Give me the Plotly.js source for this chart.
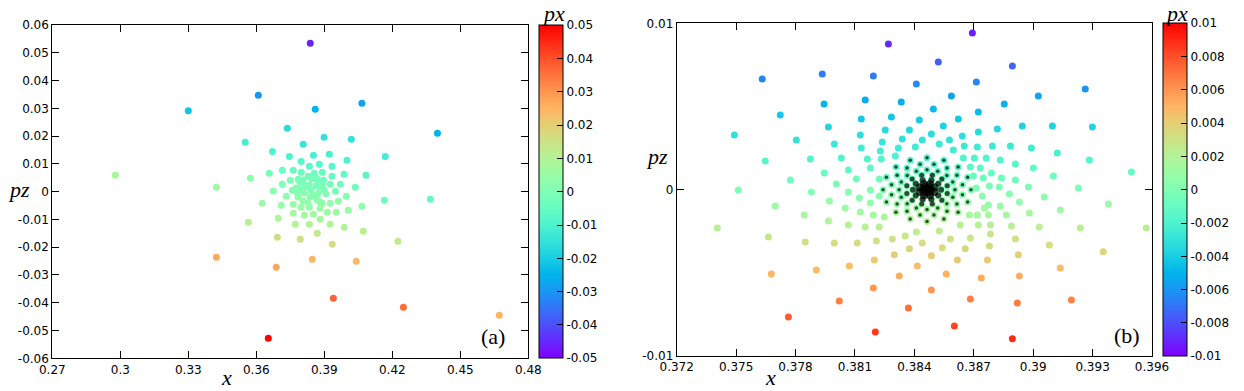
<!DOCTYPE html>
<html>
<head>
<meta charset="utf-8">
<script src="https://cdn.plot.ly/plotly-3.0.1.min.js"></script>
<style>
  body { margin: 0; background: #fff; }
  #chart { width: 1244px; height: 391px; }
</style>
</head>
<body>
<div id="chart"></div>
<script>
// ---- panel (a) : x, pz, px ----
const xA = [0.3838, 0.3609, 0.3300, 0.3860, 0.3737, 0.3551, 0.3807, 0.3671, 0.3746, 0.3852,
  0.3798, 0.2978, 0.3424, 0.3574, 0.3657, 0.3715, 0.3763, 0.3834, 0.3675, 0.3715,
  0.3424, 0.3653, 0.3688, 0.3847, 0.3693, 0.3794, 0.3565, 0.3626, 0.3697, 0.3772,
  0.3834, 0.3763, 0.3812, 0.3852, 0.3869, 0.3710, 0.3763, 0.3732, 0.4066, 0.4399,
  0.3899, 0.4019, 0.4169, 0.3922, 0.4000, 0.4084, 0.3934, 0.3987, 0.3878, 0.3934,
  0.3891, 0.3971, 0.4037, 0.3926, 0.4368, 0.4165, 0.4672, 0.4249, 0.3940, 0.4041,
  0.4225, 0.3935, 0.4072, 0.3988, 0.3926, 0.4066, 0.4006, 0.3953, 0.3913, 0.3882,
  0.3962, 0.3997, 0.3926, 0.3891, 0.3882, 0.3798, 0.3856, 0.3750, 0.3785, 0.3829,
  0.3865, 0.3896, 0.3759, 0.3949, 0.3798, 0.3834, 0.3793, 0.3846, 0.3894, 0.3908,
  0.3881, 0.3828, 0.3784, 0.3775, 0.3819, 0.3863, 0.3872, 0.3837, 0.3810, 0.3841,
  0.3806, 0.3872, 0.3899, 0.3868, 0.3806, 0.3780, 0.3833, 0.3850, 0.3793, 0.3885];
const pzA = [0.0534, 0.0347, 0.0291, 0.0297, 0.0228, 0.0178, 0.0171, 0.0145, 0.0127, 0.0131,
  0.0109, 0.0059, 0.0016, 0.0048, 0.0066, 0.0077, 0.0077, 0.0091, 0.0002, 0.0027,
  -0.0236, -0.0528, -0.0272, -0.0243, -0.0164, -0.0171, -0.0110, -0.0042, -0.0096, -0.0117,
  -0.0117, -0.0078, -0.0085, -0.0081, -0.0150, -0.0049, -0.0045, -0.0017, 0.0318, 0.0210,
  0.0196, 0.0189, 0.0127, 0.0135, 0.0113, 0.0059, 0.0091, 0.0063, 0.0099, 0.0055,
  0.0070, 0.0027, 0.0016, 0.0027, -0.0027, -0.0031, -0.0445, -0.0416, -0.0384, -0.0251,
  -0.0179, -0.0189, -0.0143, -0.0128, -0.0117, -0.0053, -0.0067, -0.0074, -0.0074, -0.0099,
  -0.0035, -0.0017, -0.0042, -0.0042, -0.0060, 0.0070, 0.0066, 0.0041, 0.0045, 0.0055,
  0.0048, 0.0041, 0.0005, 0.0001, -0.0056, -0.0056, 0.0035, 0.0046, 0.0028, -0.0008,
  -0.0037, -0.0041, -0.0019, 0.0013, 0.0021, 0.0021, -0.0008, -0.0019, -0.0005, 0.0006,
  0.0042, 0.0042, 0.0006, -0.0030, -0.0033, -0.0001, 0.0024, -0.0012, 0.0010, 0.0010];
const pxA = [-0.046, -0.030, -0.022, -0.025, -0.017, -0.012, -0.014, -0.010, -0.010, -0.011,
  -0.008, 0.008, 0.006, 0.003, -0.002, -0.004, -0.005, -0.007, 0.002, 0.000,
  0.027, 0.050, 0.027, 0.025, 0.016, 0.016, 0.011, 0.006, 0.009, 0.010,
  0.010, 0.007, 0.007, 0.007, 0.013, 0.005, 0.004, 0.003, -0.028, -0.025,
  -0.015, -0.015, -0.012, -0.011, -0.010, -0.008, -0.008, -0.006, -0.008, -0.005,
  -0.005, -0.003, -0.003, -0.002, -0.006, -0.003, 0.025, 0.036, 0.037, 0.024,
  0.013, 0.016, 0.011, 0.010, 0.010, 0.003, 0.005, 0.006, 0.006, 0.008,
  0.003, 0.001, 0.004, 0.004, 0.005, -0.004, -0.004, -0.002, -0.002, -0.003,
  -0.003, -0.003, 0.001, -0.001, 0.005, 0.005, -0.001, -0.002, -0.002, 0.000,
  0.003, 0.004, 0.002, 0.000, -0.001, -0.001, 0.001, 0.002, 0.001, 0.000,
  -0.002, -0.002, 0.000, 0.003, 0.003, 0.001, -0.001, 0.001, 0.000, 0.000];

// ---- panel (b) : outer points ----
const xB = [0.38269, 0.37632, 0.37935, 0.38193, 0.38410, 0.37723, 0.37944, 0.38152, 0.38334, 0.37491,
  0.37804, 0.37966, 0.38132, 0.38284, 0.38425, 0.37647, 0.37875, 0.37996, 0.38127, 0.38253,
  0.38375, 0.37511, 0.37774, 0.37945, 0.38031, 0.38132, 0.38238, 0.38339, 0.38440, 0.37405,
  0.37698, 0.37880, 0.38006, 0.38067, 0.38163, 0.38228, 0.38319, 0.38405, 0.37663, 0.37844,
  0.37971, 0.38067, 0.38107, 0.38178, 0.38233, 0.38304, 0.37678, 0.37849, 0.37966, 0.38051,
  0.38122, 0.38178, 0.38223, 0.37996, 0.38067, 0.38127, 0.38178, 0.38223, 0.37905, 0.38112,
  0.38152, 0.38193, 0.37764, 0.38021, 0.38072, 0.38208, 0.38223, 0.38248, 0.38203, 0.38193,
  0.38198, 0.38299, 0.38289, 0.38324, 0.38370, 0.38375, 0.38415, 0.38354, 0.38410, 0.38440,
  0.38693, 0.38521, 0.38895, 0.38713, 0.39026, 0.39263, 0.38587, 0.38854, 0.38496, 0.38723,
  0.38622, 0.38819, 0.38945, 0.39097, 0.39299, 0.38546, 0.38723, 0.38486, 0.38642, 0.38577,
  0.38526, 0.38597, 0.38652, 0.38718, 0.38794, 0.38885, 0.38991, 0.39122, 0.39284, 0.39496,
  0.38647, 0.38703, 0.38763, 0.38834, 0.38910, 0.39001, 0.39102, 0.39228, 0.39380, 0.39571,
  0.38683, 0.38733, 0.38789, 0.38840, 0.38910, 0.38976, 0.39056, 0.39137, 0.39238, 0.39354,
  0.38698, 0.38748, 0.38779, 0.38829, 0.38880, 0.38930, 0.38981, 0.39031, 0.39082, 0.39137,
  0.39193, 0.38713, 0.38743, 0.38774, 0.38834, 0.38864, 0.38890, 0.38910, 0.38925, 0.38930,
  0.38920, 0.38895, 0.38753, 0.38774, 0.38784, 0.38784, 0.38779, 0.38769, 0.38738, 0.38683,
  0.38602, 0.38718, 0.38723, 0.38683, 0.38657, 0.38617, 0.38561, 0.38486, 0.38632, 0.38582,
  0.38541, 0.38486, 0.38678, 0.38526];
const pzB = [0.00876, 0.00665, 0.00695, 0.00683, 0.00635, 0.00449, 0.00515, 0.00539, 0.00527, 0.00329,
  0.00299, 0.00377, 0.00425, 0.00437, 0.00419, 0.00172, 0.00185, 0.00275, 0.00329, 0.00359,
  0.00359, -0.00002, 0.00058, 0.00100, 0.00191, 0.00251, 0.00287, 0.00305, 0.00299, -0.00230,
  -0.00098, -0.00014, 0.00034, 0.00118, 0.00185, 0.00233, 0.00251, 0.00257, -0.00284, -0.00152,
  -0.00068, -0.00014, 0.00064, 0.00130, 0.00185, 0.00203, -0.00507, -0.00314, -0.00188, -0.00110,
  -0.00050, -0.00002, 0.00064, -0.00320, -0.00212, -0.00134, -0.00080, -0.00038, -0.00483, -0.00320,
  -0.00224, -0.00152, -0.00765, -0.00669, -0.00459, -0.00308, -0.00224, -0.00164, -0.00855, -0.00591,
  -0.00423, -0.00392, -0.00296, -0.00519, -0.00711, -0.00356, -0.00459, -0.00278, -0.00254, -0.00320,
  0.00942, 0.00767, 0.00743, 0.00647, 0.00563, 0.00605, 0.00563, 0.00515, 0.00485, 0.00467,
  0.00425, 0.00365, 0.00383, 0.00383, 0.00377, 0.00383, 0.00347, 0.00335, 0.00323, 0.00299,
  0.00275, 0.00239, 0.00263, 0.00257, 0.00263, 0.00263, 0.00251, 0.00221, 0.00178, 0.00106,
  0.00191, 0.00191, 0.00191, 0.00178, 0.00154, 0.00130, 0.00082, 0.00010, -0.00086, -0.00230,
  0.00136, 0.00130, 0.00100, 0.00070, 0.00058, 0.00016, -0.00044, -0.00122, -0.00230, -0.00374,
  0.00082, 0.00070, 0.00022, 0.00016, -0.00026, -0.00074, -0.00140, -0.00224, -0.00332, -0.00471,
  -0.00663, 0.00010, -0.00038, -0.00092, -0.00098, -0.00152, -0.00218, -0.00296, -0.00392, -0.00519,
  -0.00681, -0.00897, -0.00110, -0.00152, -0.00212, -0.00266, -0.00338, -0.00423, -0.00531, -0.00657,
  -0.00819, -0.00152, -0.00212, -0.00290, -0.00356, -0.00423, -0.00507, -0.00603, -0.00212, -0.00296,
  -0.00350, -0.00398, -0.00152, -0.00248];
const pxB = [-0.0090, -0.0065, -0.0068, -0.0068, -0.0063, -0.0042, -0.0050, -0.0053, -0.0052, -0.0032,
  -0.0030, -0.0037, -0.0042, -0.0043, -0.0041, -0.0017, -0.0018, -0.0027, -0.0032, -0.0035,
  -0.0035, 0.0000, -0.0006, -0.0010, -0.0019, -0.0025, -0.0028, -0.0030, -0.0029, 0.0023,
  0.0010, 0.0001, -0.0003, -0.0012, -0.0018, -0.0023, -0.0025, -0.0025, 0.0028, 0.0015,
  0.0007, 0.0001, -0.0006, -0.0013, -0.0018, -0.0020, 0.0050, 0.0031, 0.0019, 0.0011,
  0.0005, 0.0000, -0.0006, 0.0032, 0.0021, 0.0013, 0.0008, 0.0004, 0.0048, 0.0032,
  0.0022, 0.0015, 0.0077, 0.0067, 0.0046, 0.0031, 0.0022, 0.0016, 0.0086, 0.0059,
  0.0042, 0.0039, 0.0030, 0.0052, 0.0071, 0.0036, 0.0046, 0.0028, 0.0025, 0.0032,
  -0.0093, -0.0076, -0.0074, -0.0064, -0.0056, -0.0060, -0.0056, -0.0051, -0.0048, -0.0046,
  -0.0042, -0.0036, -0.0038, -0.0038, -0.0037, -0.0038, -0.0034, -0.0033, -0.0032, -0.0030,
  -0.0027, -0.0024, -0.0026, -0.0025, -0.0026, -0.0026, -0.0025, -0.0022, -0.0018, -0.0010,
  -0.0019, -0.0019, -0.0019, -0.0018, -0.0015, -0.0013, -0.0008, -0.0001, 0.0009, 0.0023,
  -0.0014, -0.0013, -0.0010, -0.0007, -0.0006, -0.0002, 0.0004, 0.0012, 0.0023, 0.0037,
  -0.0008, -0.0007, -0.0002, -0.0002, 0.0003, 0.0007, 0.0014, 0.0022, 0.0033, 0.0047,
  0.0066, -0.0001, 0.0004, 0.0009, 0.0010, 0.0015, 0.0022, 0.0030, 0.0039, 0.0052,
  0.0068, 0.0090, 0.0011, 0.0015, 0.0021, 0.0027, 0.0034, 0.0042, 0.0053, 0.0066,
  0.0082, 0.0015, 0.0021, 0.0029, 0.0036, 0.0042, 0.0051, 0.0060, 0.0021, 0.0030,
  0.0035, 0.0040, 0.0015, 0.0025];

// ---- panel (b) : dense core (drawn again with black dots on top) ----
const xCore = [0.38686, 0.38669, 0.38621, 0.38549, 0.38464, 0.38379, 0.38307, 0.38259, 0.38242, 0.38259, 0.38307, 0.38379, 0.38464, 0.38549, 0.38621, 0.38669,
  0.38643, 0.38615, 0.38565, 0.38499, 0.38429, 0.38363, 0.38313, 0.38285, 0.38285, 0.38313, 0.38363, 0.38429, 0.38499, 0.38565, 0.38615, 0.38643,
  0.38605, 0.38594, 0.38564, 0.38518, 0.38464, 0.38410, 0.38364, 0.38334, 0.38323, 0.38334, 0.38364, 0.38410, 0.38464, 0.38518, 0.38564, 0.38594,
  0.38566, 0.38539, 0.38491, 0.38437, 0.38389, 0.38362, 0.38362, 0.38389, 0.38437, 0.38491, 0.38539, 0.38566,
  0.38535, 0.38521, 0.38486, 0.38442, 0.38407, 0.38393, 0.38407, 0.38442, 0.38486, 0.38521,
  0.38501, 0.38479, 0.38449, 0.38427, 0.38427, 0.38449, 0.38479, 0.38501,
  0.38484, 0.38474, 0.38454, 0.38444, 0.38454, 0.38474, 0.38464];
const pzCore = [0, 0.00074, 0.00136, 0.00177, 0.00192, 0.00177, 0.00136, 0.00074, 0, -0.00074, -0.00136, -0.00177, -0.00192, -0.00177, -0.00136, -0.00074,
  0.00030, 0.00087, 0.00130, 0.00153, 0.00153, 0.00130, 0.00087, 0.00030, -0.00030, -0.00087, -0.00130, -0.00153, -0.00153, -0.00130, -0.00087, -0.00030,
  0, 0.00046, 0.00085, 0.00111, 0.00120, 0.00111, 0.00085, 0.00046, 0, -0.00046, -0.00085, -0.00111, -0.00120, -0.00111, -0.00085, -0.00046,
  0.00023, 0.00064, 0.00087, 0.00087, 0.00064, 0.00023, -0.00023, -0.00064, -0.00087, -0.00087, -0.00064, -0.00023,
  0, 0.00035, 0.00057, 0.00057, 0.00035, 0, -0.00035, -0.00057, -0.00057, -0.00035,
  0.00014, 0.00033, 0.00033, 0.00014, -0.00014, -0.00033, -0.00033, -0.00014,
  0, 0.00016, 0.00016, 0, -0.00016, -0.00016, 0];
const pxCore = [0, -0.0007, -0.0014, -0.0018, -0.0019, -0.0018, -0.0014, -0.0007, 0, 0.0007, 0.0014, 0.0018, 0.0019, 0.0018, 0.0014, 0.0007,
  -0.0003, -0.0009, -0.0013, -0.0015, -0.0015, -0.0013, -0.0009, -0.0003, 0.0003, 0.0009, 0.0013, 0.0015, 0.0015, 0.0013, 0.0009, 0.0003,
  0, -0.0005, -0.0009, -0.0011, -0.0012, -0.0011, -0.0009, -0.0005, 0, 0.0005, 0.0009, 0.0011, 0.0012, 0.0011, 0.0009, 0.0005,
  -0.0002, -0.0006, -0.0009, -0.0009, -0.0006, -0.0002, 0.0002, 0.0006, 0.0009, 0.0009, 0.0006, 0.0002,
  0, -0.0004, -0.0006, -0.0006, -0.0004, 0, 0.0004, 0.0006, 0.0006, 0.0004,
  -0.0001, -0.0003, -0.0003, -0.0001, 0.0001, 0.0003, 0.0003, 0.0001,
  0, -0.0002, -0.0002, 0, 0.0002, 0.0002, 0];

// ---- ticks ----
const xTicksA = [0.27, 0.30, 0.33, 0.36, 0.39, 0.42, 0.45, 0.48];
const xLabelsA = ['0.27', '0.3', '0.33', '0.36', '0.39', '0.42', '0.45', '0.48'];
const yTicksA = [-0.06, -0.05, -0.04, -0.03, -0.02, -0.01, 0, 0.01, 0.02, 0.03, 0.04, 0.05, 0.06];
const yLabelsA = ['-0.06', '-0.05', '-0.04', '-0.03', '-0.02', '-0.01', '0', '0.01', '0.02', '0.03', '0.04', '0.05', '0.06'];
const cTicksA = [-0.05, -0.04, -0.03, -0.02, -0.01, 0, 0.01, 0.02, 0.03, 0.04, 0.05];
const cLabelsA = ['-0.05', '-0.04', '-0.03', '-0.02', '-0.01', '0', '0.01', '0.02', '0.03', '0.04', '0.05'];
const xTicksB = [0.372, 0.375, 0.378, 0.381, 0.384, 0.387, 0.390, 0.393, 0.396];
const xLabelsB = ['0.372', '0.375', '0.378', '0.381', '0.384', '0.387', '0.39', '0.393', '0.396'];
const yTicksB = [-0.01, 0, 0.01];
const yLabelsB = ['-0.01', '0', '0.01'];
const cTicksB = [-0.01, -0.008, -0.006, -0.004, -0.002, 0, 0.002, 0.004, 0.006, 0.008, 0.01];
const cLabelsB = ['-0.01', '-0.008', '-0.006', '-0.004', '-0.002', '0', '0.002', '0.004', '0.006', '0.008', '0.01'];

// gnuplot style rainbow palette (33,13,10)
function rainbow() {
  const stops = [];
  for (let i = 0; i <= 20; i++) {
    const t = i / 20;
    const r = Math.min(1, Math.abs(2 * t - 0.5));
    const g = Math.sin(Math.PI * t);
    const b = Math.cos(Math.PI * t / 2);
    stops.push([t, 'rgb(' + Math.round(r * 255) + ',' + Math.round(g * 255) + ',' + Math.round(b * 255) + ')']);
  }
  return stops;
}

const W = 1244, H = 391;
const px2x = (p) => p / W;
const px2y = (p) => 1 - p / H;

const tickFont = { family: 'DejaVu Sans, sans-serif', size: 12, color: '#000' };
const serif = { family: 'Liberation Serif, serif', size: 22, color: '#000' };

function axis(domain, range, vals, text, anchor) {
  return {
    domain: domain, range: range, anchor: anchor,
    tickmode: 'array', tickvals: vals, ticktext: text,
    ticks: 'inside', ticklen: 7, tickcolor: '#000', tickwidth: 1,
    showline: true, linecolor: '#000', linewidth: 1, mirror: 'ticks',
    showgrid: false, zeroline: false, tickfont: tickFont, fixedrange: true
  };
}

function colorbar(x, yc, vals, text) {
  return {
    x: x, xanchor: 'left', xpad: 0,
    y: yc, yanchor: 'middle', ypad: 0,
    len: 333, lenmode: 'pixels', thickness: 24, thicknessmode: 'pixels',
    outlinewidth: 1, outlinecolor: '#000',
    tickmode: 'array', tickvals: vals, ticktext: text,
    ticks: 'inside', ticklen: 6, tickcolor: '#000',
    tickfont: tickFont
  };
}

const colored = { size: 7, line: { width: 0 } };

// black dots of the core: bigger towards the centre so it fills in
const coreSize = xCore.map((v, i) => (i < 48 ? 3.5 : i < 60 ? 5 : i < 70 ? 6 : 8));

const data = [
  {
    x: xA, y: pzA, type: 'scatter', mode: 'markers', xaxis: 'x', yaxis: 'y',
    marker: Object.assign({ color: pxA, coloraxis: 'coloraxis' }, colored),
    hoverinfo: 'skip'
  },
  {
    x: xB.concat(xCore), y: pzB.concat(pzCore), type: 'scatter', mode: 'markers', xaxis: 'x2', yaxis: 'y2',
    marker: Object.assign({ color: pxB.concat(pxCore), coloraxis: 'coloraxis2' }, colored),
    hoverinfo: 'skip'
  },
  {
    x: xCore, y: pzCore, type: 'scatter', mode: 'markers', xaxis: 'x2', yaxis: 'y2',
    marker: { color: '#000', size: coreSize, symbol: 'circle', line: { width: 0 } },
    hoverinfo: 'skip'
  }
];

const layout = {
  width: W, height: H,
  margin: { l: 0, r: 0, t: 0, b: 0 },
  paper_bgcolor: '#fff', plot_bgcolor: '#fff',
  showlegend: false,
  xaxis: axis([px2x(52.3), px2x(528.3)], [0.27, 0.48], xTicksA, xLabelsA, 'y'),
  yaxis: axis([px2y(358.3), px2y(25)], [-0.06, 0.06], yTicksA, yLabelsA, 'x'),
  xaxis2: axis([px2x(676.7), px2x(1152)], [0.372, 0.396], xTicksB, xLabelsB, 'y2'),
  yaxis2: axis([px2y(356), px2y(23.3)], [-0.01, 0.01], yTicksB, yLabelsB, 'x2'),
  coloraxis: {
    cmin: -0.05, cmax: 0.05, colorscale: rainbow(),
    colorbar: colorbar(px2x(539), px2y(191.7), cTicksA, cLabelsA)
  },
  coloraxis2: {
    cmin: -0.01, cmax: 0.01, colorscale: rainbow(),
    colorbar: colorbar(px2x(1163), px2y(189.7), cTicksB, cLabelsB)
  },
  annotations: [
    { text: '<i>x</i>', x: px2x(226), y: 0, yanchor: 'bottom' },
    { text: '<i>pz</i>', x: px2x(19), y: px2y(189) },
    { text: '<i>px</i>', x: px2x(553), y: 1, yanchor: 'top' },
    { text: '(a)', x: px2x(493), y: px2y(336) },
    { text: '<i>x</i>', x: px2x(770), y: 0, yanchor: 'bottom' },
    { text: '<i>pz</i>', x: px2x(657), y: px2y(156) },
    { text: '<i>px</i>', x: px2x(1176), y: 1, yanchor: 'top' },
    { text: '(b)', x: px2x(1127), y: px2y(335) }
  ].map((a) => Object.assign({ xref: 'paper', yref: 'paper', xanchor: 'center', yanchor: 'middle', showarrow: false, font: serif, borderpad: 0 }, a))
};

Plotly.newPlot('chart', data, layout, { displayModeBar: false, staticPlot: true });
</script>
</body>
</html>
